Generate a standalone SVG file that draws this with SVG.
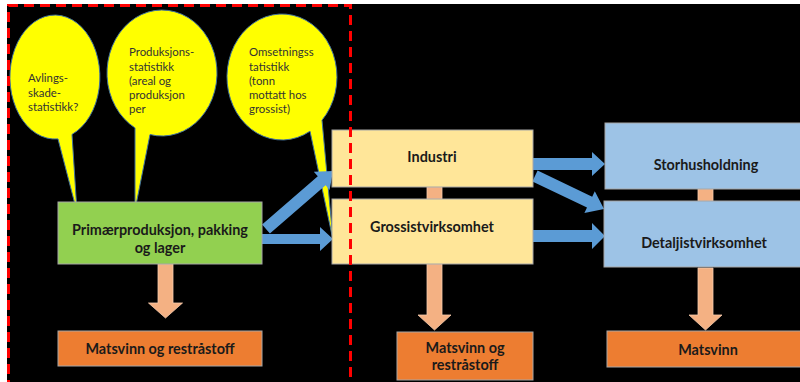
<svg xmlns="http://www.w3.org/2000/svg" width="800" height="382" viewBox="0 0 800 382">
<defs>
<style>
.bubble{fill:#FFFF00;stroke:#41719C;stroke-width:1}
.btxt{font-family:Lato,"Liberation Sans",sans-serif;font-size:11.4px;fill:#333}
.box{stroke:#A6A6A6;stroke-width:1}
.green{fill:#92D050}
.yel{fill:#FFE699}
.blu{fill:#9DC3E6}
.org{fill:#ED7D31}
.t{font-family:Lato,"Liberation Sans",sans-serif;font-size:14.4px;font-weight:bold;fill:#1a1a1a;text-anchor:middle}
.barrow{fill:#5B9BD5}
.parrow{fill:#F4B183;stroke:#F8CBAD;stroke-width:0.8}
</style>
</defs>
<rect x="0" y="0" width="800" height="382" fill="#ffffff"/>
<rect x="7" y="4" width="793" height="378" fill="#000000"/>

<g id="bubble-avlings">
<path class="bubble" d="M 58,138.9 L 77,212 L 72,134.4 A 45 62 0 1 0 58,138.9 Z"/>
<text class="btxt" x="28" y="82">Avlings-</text>
<text class="btxt" x="28" y="97">skade-</text>
<text class="btxt" x="28" y="111">statistikk?</text>
</g>
<g id="bubble-produksjon">
<path class="bubble" d="M 135,127.9 L 135,210 L 150,134.5 A 55 63 0 1 0 135,127.9 Z"/>
<text class="btxt" x="129" y="56">Produksjons-</text>
<text class="btxt" x="129" y="71">statistikk</text>
<text class="btxt" x="129" y="85">(areal og</text>
<text class="btxt" x="129" y="99">produksjon</text>
<text class="btxt" x="129" y="113">per</text>
</g>
<g id="bubble-omsetning">
<path class="bubble" d="M 310,131.2 L 333,240 L 322,120.2 A 55 63 0 1 0 310,131.2 Z"/>
<text class="btxt" x="249" y="56">Omsetningss</text>
<text class="btxt" x="249" y="71">tatistikk</text>
<text class="btxt" x="249" y="85">(tonn</text>
<text class="btxt" x="249" y="99">mottatt hos</text>
<text class="btxt" x="249" y="113">grossist)</text>
</g>

<g id="connectors">
<polygon class="barrow" points="262.1,224.5 317.8,176.3 313.8,171.7 333,171 329.6,189.9 325.6,185.3 269.9,233.5"/>
<polygon class="barrow" points="262,234 320,234 320,227 333,239 320,251 320,244 262,244"/>
<polygon class="barrow" points="533,158 592,158 592,152 605,164 592,176 592,170 533,170"/>
<polygon class="barrow" points="532.4,181.4 537.6,170.6 592.2,196.7 594.8,191.3 604,209 584.4,212.9 587,207.5"/>
<polygon class="barrow" points="533,230 592,230 592,223 605,236 592,249 592,242 533,242"/>
<polygon class="parrow" points="158,264 173,264 173,303 182.5,303 165.5,318 148.5,303 158,303"/>
<polygon class="parrow" points="427,264 442,264 442,315 451,315 434.5,330 418,315 427,315"/>
<polygon class="parrow" points="698,268 713,268 713,315 722,315 705.5,330 689,315 698,315"/>
<rect class="parrow" x="427" y="187" width="15" height="12"/>
<rect class="parrow" x="698" y="189" width="15" height="12"/>
</g>

<g id="node-primaer">
<rect class="box green" x="58" y="202" width="204" height="62"/>
<text class="t" x="160" y="235">Primærproduksjon, pakking</text>
<text class="t" x="160" y="253">og lager</text>
</g>
<g id="node-matsvinn1">
<rect class="box org" x="58" y="331" width="204" height="35"/>
<text class="t" x="160" y="354">Matsvinn og restråstoff</text>
</g>
<g id="node-industri">
<rect class="box yel" x="332" y="130" width="201" height="57"/>
<text class="t" x="432" y="162">Industri</text>
</g>
<g id="node-grossist">
<rect class="box yel" x="332" y="199" width="201" height="65"/>
<text class="t" x="432" y="232">Grossistvirksomhet</text>
</g>
<g id="node-matsvinn2">
<rect class="box org" x="397" y="332" width="136" height="48"/>
<text class="t" x="465" y="353">Matsvinn og</text>
<text class="t" x="465" y="370">restråstoff</text>
</g>
<g id="node-storhusholdning">
<rect class="box blu" x="605" y="123" width="200" height="66"/>
<text class="t" x="706" y="170">Storhusholdning</text>
</g>
<g id="node-detaljist">
<rect class="box blu" x="604" y="201" width="201" height="66"/>
<text class="t" x="704" y="248">Detaljistvirksomhet</text>
</g>
<g id="node-matsvinn3">
<rect class="box org" x="607" y="331" width="198" height="36"/>
<text class="t" x="708" y="355">Matsvinn</text>
</g>

<path d="M 8.5,390 L 8.5,5.5 L 350.5,5.5 L 350.5,390" fill="none" stroke="#FF0000" stroke-width="3" stroke-dasharray="10 6"/>
</svg>
